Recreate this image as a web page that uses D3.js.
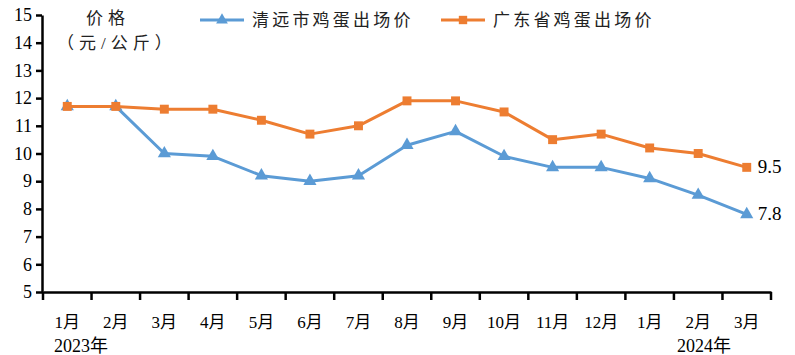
<!DOCTYPE html>
<html><head><meta charset="utf-8">
<script src="https://cdn.jsdelivr.net/npm/d3@7"></script>
<style>body{margin:0;background:#fff}svg{display:block}</style>
</head><body>
<svg id="c" width="795" height="355"></svg>
<script>
const months = ["1月","2月","3月","4月","5月","6月","7月","8月","9月","10月","11月","12月","1月","2月","3月"];
const qingyuan = [11.7,11.7,10.0,9.9,9.2,9.0,9.2,10.3,10.8,9.9,9.5,9.5,9.1,8.5,7.8];
const guangdong = [11.7,11.7,11.6,11.6,11.2,10.7,11.0,11.9,11.9,11.5,10.5,10.7,10.2,10.0,9.5];
const yTicks = [5,6,7,8,9,10,11,12,13,14,15];
const seriesNames = ["清远市鸡蛋出场价","广东省鸡蛋出场价"];
const years = ["2023年","2024年"];

const serif = "'Liberation Serif','Times New Roman',serif";
const cjk = "'Liberation Serif','Noto Sans CJK SC',serif";
const svg = d3.select("#c");
const idx = d3.range(months.length);
const x = d3.scaleBand().domain(idx).range([43,771]);
const y = d3.scaleLinear().domain([5,15]).range([292,15]);
const blue = "#5B9BD5", orange = "#ED7D31";

// y axis
const ya = svg.append("g").attr("transform","translate(42,0)")
  .call(d3.axisLeft(y).tickValues(yTicks).tickSize(6).tickSizeOuter(0).tickFormat(d3.format("d")));
ya.select(".domain").attr("stroke","#000").attr("stroke-width",2.5);
ya.selectAll(".tick line").attr("stroke","#000").attr("stroke-width",2.5);
ya.selectAll(".tick text").attr("font-family",serif).attr("font-size",18).attr("fill","#000").attr("x",-10);

// x axis
const xa = svg.append("g").attr("transform","translate(0,292)")
  .call(d3.axisBottom(x).tickSize(0).tickFormat(i=>months[i]));
xa.select(".domain").attr("stroke","#000").attr("stroke-width",2.5);
xa.selectAll(".tick text").attr("font-family",cjk).attr("font-size",17).attr("fill","#000").attr("dy","0").attr("y",36);
const bounds = idx.map(i=>x(i)).concat([x.range()[1]]);
xa.selectAll("line.bt").data(bounds).join("line").attr("class","bt")
  .attr("x1",d=>d).attr("x2",d=>d).attr("y1",0).attr("y2",8)
  .attr("stroke","#000").attr("stroke-width",2.5);

// year labels
svg.append("text").attr("x",54).attr("y",352).attr("font-family",cjk).attr("font-size",18).text(years[0]);
svg.append("text").attr("x",677).attr("y",352).attr("font-family",cjk).attr("font-size",18).text(years[1]);

// y title
svg.append("text").attr("x",86).attr("y",24).attr("font-family",cjk).attr("font-size",17).attr("letter-spacing",5).attr("fill","#222").text("价格");
svg.append("text").attr("x",57).attr("y",49).attr("font-family",cjk).attr("font-size",17).attr("letter-spacing",5).attr("fill","#222").text("（元/公斤）");

const cx = i=>x(i)+x.bandwidth()/2;
const line = d3.line().x((d,i)=>cx(i)).y(d=>y(d));

function drawSeries(data,color,shape){
  svg.append("path").datum(data).attr("d",line).attr("fill","none").attr("stroke",color).attr("stroke-width",3).attr("stroke-linejoin","round");
  const sym = d3.symbol().type(shape).size(shape===d3.symbolSquare?80:75);
  svg.append("g").selectAll("path").data(data).join("path")
    .attr("transform",(d,i)=>`translate(${cx(i)},${y(d)})`).attr("d",sym).attr("fill",color);
}
drawSeries(qingyuan,blue,d3.symbolTriangle);
drawSeries(guangdong,orange,d3.symbolSquare);

// end labels
svg.append("text").attr("x",cx(14)+11).attr("y",y(guangdong[14])+6).attr("font-family",serif).attr("font-size",19).text(guangdong[14].toFixed(1));
svg.append("text").attr("x",cx(14)+11).attr("y",y(qingyuan[14])+6).attr("font-family",serif).attr("font-size",19).text(qingyuan[14].toFixed(1));

// legend
const leg = [{x:200,c:blue,s:d3.symbolTriangle},{x:441,c:orange,s:d3.symbolSquare}];
leg.forEach((l,i)=>{
  svg.append("line").attr("x1",l.x).attr("x2",l.x+44).attr("y1",20).attr("y2",20).attr("stroke",l.c).attr("stroke-width",3);
  svg.append("path").attr("transform",`translate(${l.x+22},20)`).attr("d",d3.symbol().type(l.s).size(l.s===d3.symbolSquare?70:60)).attr("fill",l.c);
  svg.append("text").attr("x",l.x+52).attr("y",26).attr("font-family",cjk).attr("font-size",17).attr("letter-spacing",3.2).attr("fill","#222").text(seriesNames[i]);
});
</script>
</body></html>
